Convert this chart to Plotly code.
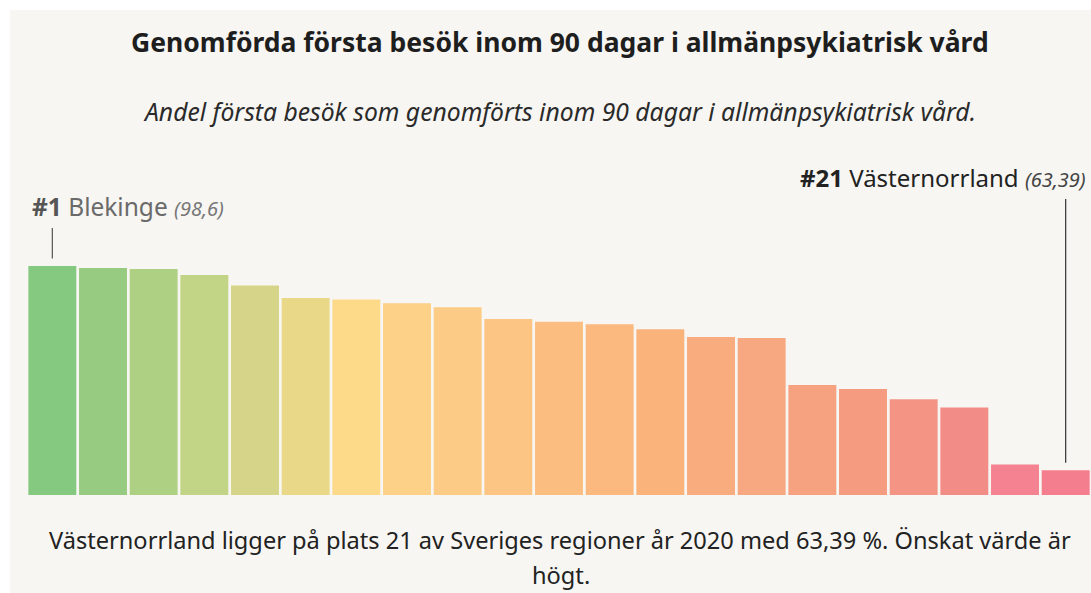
import plotly.graph_objects as go

# ---- data ----
ranks = list(range(1, 22))
values = [98.6, 98.25, 98.08, 97.05, 95.22, 93.08, 92.81, 92.17, 91.48, 89.46,
          89.01, 88.55, 87.69, 86.36, 86.19, 78.09, 77.40, 75.62, 74.19, 64.37, 63.39]
bar_colors = ["#85c880", "#98cb82", "#aed082", "#c2d485", "#d6d488", "#e9d888",
              "#fdd98a", "#fdd187", "#fccb86", "#fcc583", "#fbbe80", "#fbb97f",
              "#fbb37c", "#f9ac7e", "#f8a880", "#f6a180", "#f59b7f", "#f39484",
              "#f28c86", "#f58290", "#f47d8e"]
first_name, first_rank, first_label = "Blekinge", 1, "98,6"
sel_name, sel_rank, sel_label = "Västernorrland", 21, "63,39"

title = "Genomförda första besök inom 90 dagar i allmänpsykiatrisk vård"
subtitle = "Andel första besök som genomförts inom 90 dagar i allmänpsykiatrisk vård."
footer1 = "Västernorrland ligger på plats 21 av Sveriges regioner år 2020 med 63,39 %. Önskat värde är"
footer2 = "högt."

# ---- layout constants (page pixels) ----
W, H = 1091, 593
ML, MR = 27, 0
BASE_PAGE = 495           # bar baseline row
TOP_PAGE = 150            # top of plot area
MT = TOP_PAGE
MB = H - BASE_PAGE
PH = H - MT - MB
PW = W - ML - MR
Y0 = 59.13
PX_PER_UNIT = 5.802
Y1 = Y0 + PH / PX_PER_UNIT


def py(pix):
    """pixel row -> paper y"""
    return (BASE_PAGE - pix) / PH


def px(pix):
    """pixel column -> paper x"""
    return (pix - ML) / PW


def ydata(pix):
    return Y0 + (BASE_PAGE - pix) / PX_PER_UNIT


BG = "#f7f6f2"
FONT = "Noto Sans"

fig = go.Figure(go.Bar(
    x=[r - 1 for r in ranks], y=values, base=0,
    marker=dict(color=bar_colors, line=dict(width=0)),
    hoverinfo="skip",
))

fig.update_layout(
    width=W, height=H,
    margin=dict(l=ML, r=MR, t=MT, b=MB, pad=0),
    paper_bgcolor="white",
    plot_bgcolor="rgba(0,0,0,0)",
    bargap=0.054,
    showlegend=False,
    xaxis=dict(range=[-0.5, 20.5], visible=False, fixedrange=True),
    yaxis=dict(range=[Y0, Y1], visible=False, fixedrange=True),
    font=dict(family=FONT, color="#222222"),
)

shapes = [
    dict(type="rect", xref="paper", yref="paper", x0=px(10), x1=px(1100),
         y0=py(600), y1=py(10), fillcolor=BG, line=dict(width=0), layer="below"),
    dict(type="line", xref="x", yref="y", x0=first_rank - 1, x1=first_rank - 1,
         y0=values[first_rank - 1] + 1.3, y1=ydata(228),
         line=dict(color="#555555", width=1.2)),
    dict(type="line", xref="x", yref="y", x0=sel_rank - 1, x1=sel_rank - 1,
         y0=values[sel_rank - 1] + 1.3, y1=ydata(199),
         line=dict(color="#333333", width=1.2)),
]
fig.update_layout(shapes=shapes)

ann = []
ann.append(dict(text="<b>" + title + "</b>", x=px(560), y=py(42), xref="paper", yref="paper",
                showarrow=False, xanchor="center", yanchor="middle",
                font=dict(size=26.5, color="#1e1e1e", family=FONT)))
ann.append(dict(text="<i>" + subtitle + "</i>", x=px(559), y=py(111), xref="paper", yref="paper",
                showarrow=False, xanchor="center", yanchor="middle",
                font=dict(size=24.7, color="#2a2a2a", family=FONT)))
ann.append(dict(text="<b><span style='color:#555555'>#%d</span></b> %s <i><span style='font-size:20px;color:#777777'>(%s)</span></i>" % (first_rank, first_name, first_label),
                x=px(30), y=py(206), xref="paper", yref="paper",
                showarrow=False, xanchor="left", yanchor="middle",
                font=dict(size=24.5, color="#6a6a6a", family=FONT)))
ann.append(dict(text="<b>#%d</b> %s <i><span style='font-size:20px;color:#444444'>(%s)</span></i>" % (sel_rank, sel_name, sel_label),
                x=px(1088), y=py(177), xref="paper", yref="paper",
                showarrow=False, xanchor="right", yanchor="middle",
                font=dict(size=24, color="#222222", family=FONT)))
ann.append(dict(text=footer1, x=px(560), y=py(540), xref="paper", yref="paper",
                showarrow=False, xanchor="center", yanchor="middle",
                font=dict(size=23.6, color="#222222", family=FONT)))
ann.append(dict(text=footer2, x=px(561), y=py(575), xref="paper", yref="paper",
                showarrow=False, xanchor="center", yanchor="middle",
                font=dict(size=23.6, color="#222222", family=FONT)))
fig.update_layout(annotations=ann)

fig.write_html("out.html", config={"displayModeBar": False},
               post_script="document.body.style.margin='0';document.body.style.overflow='hidden';")
